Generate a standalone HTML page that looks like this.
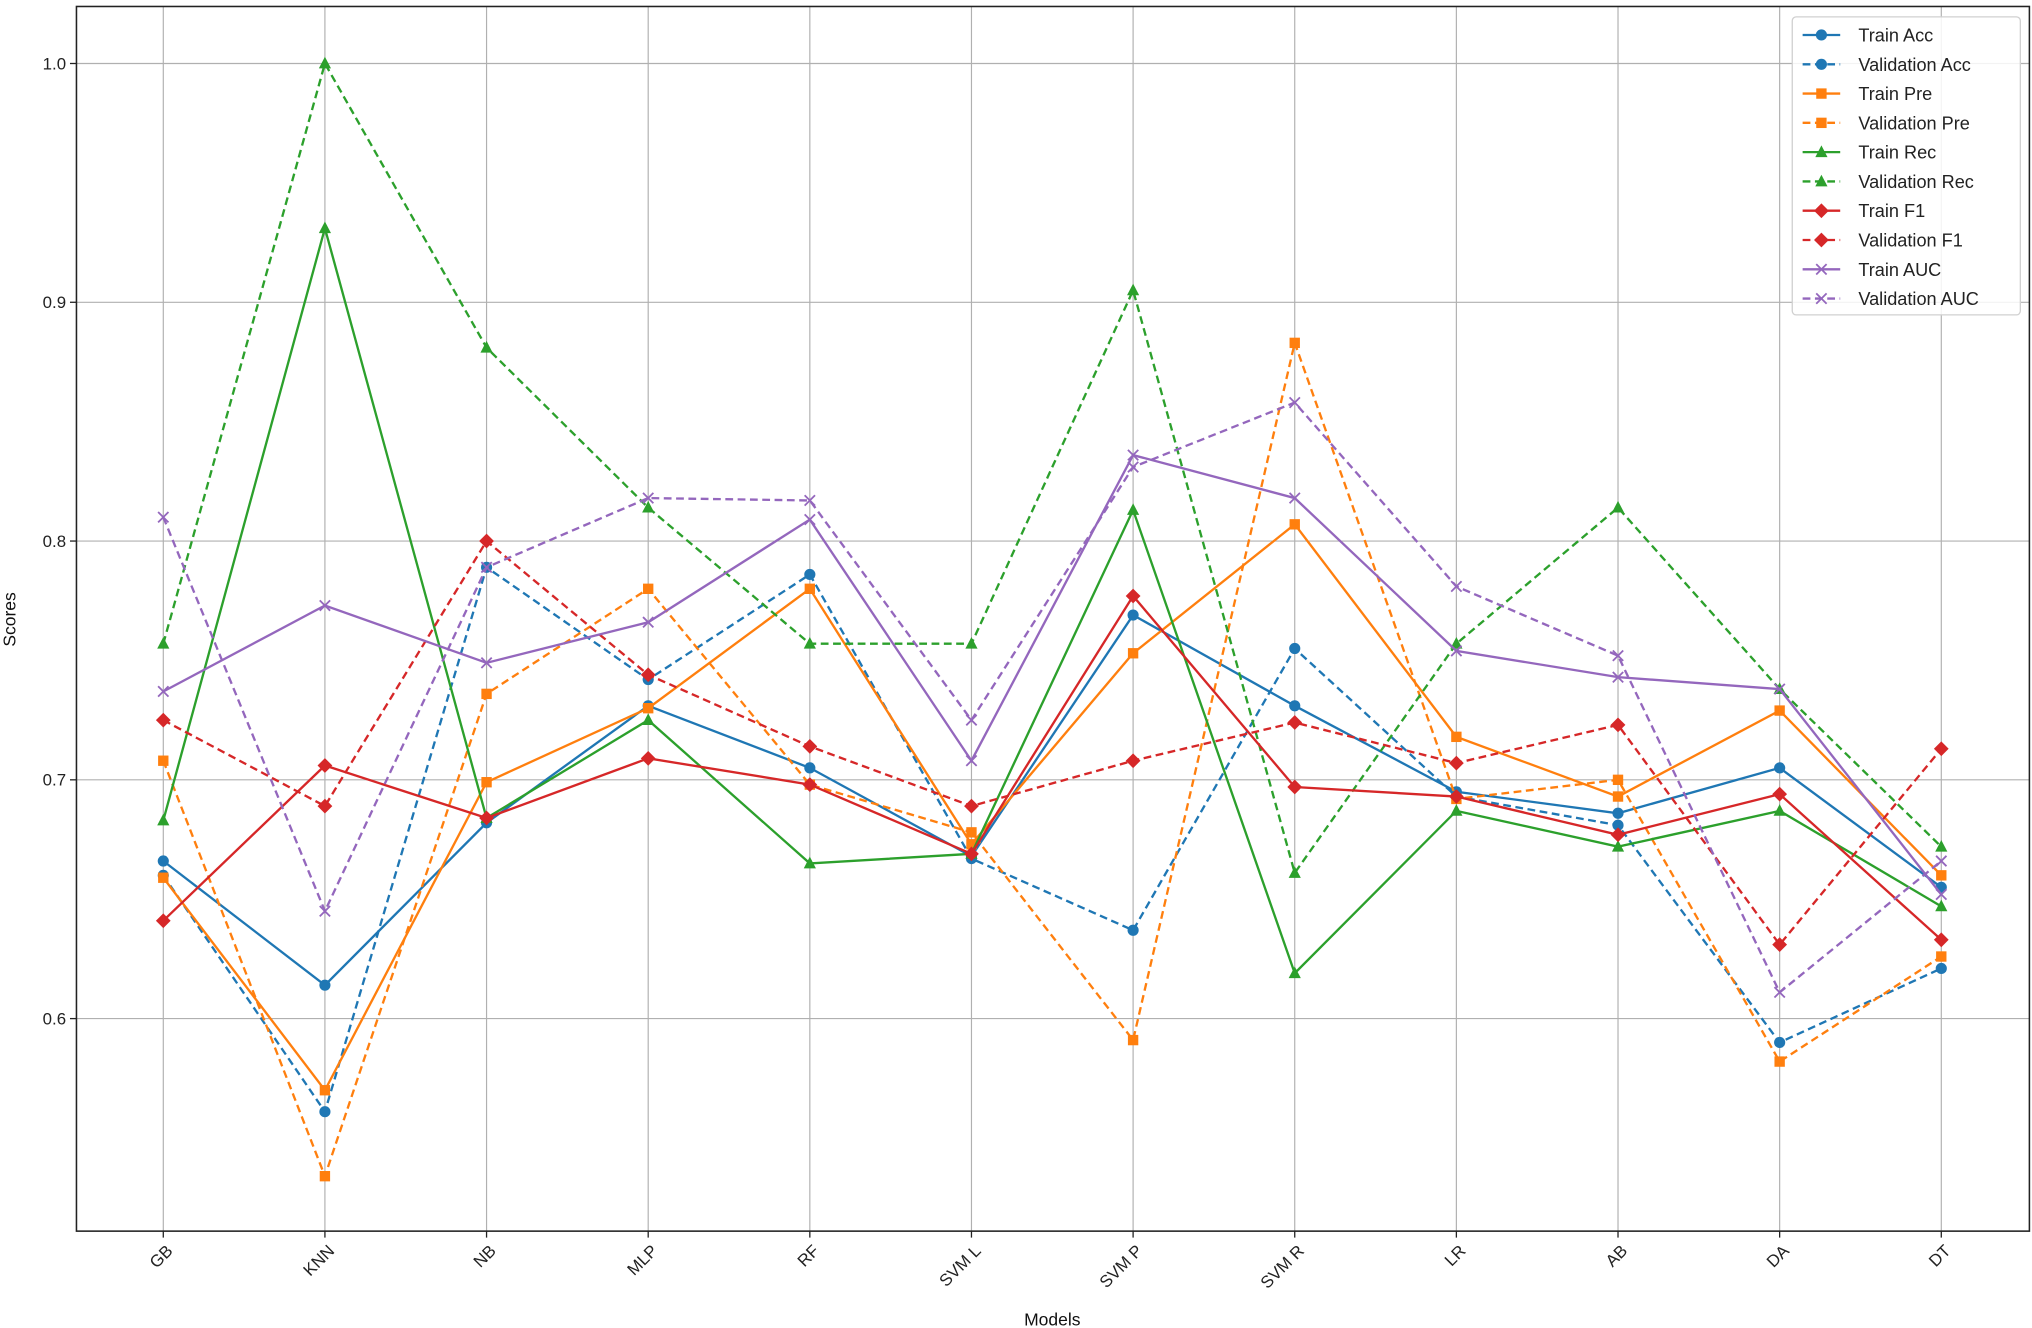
<!DOCTYPE html>
<html><head><meta charset="utf-8">
<style>
html,body{margin:0;padding:0;background:#fff;}
svg{display:block;font-family:"Liberation Sans","DejaVu Sans",sans-serif;}
</style></head>
<body>
<svg id="chart" width="2032" height="1328" viewBox="0 0 1568 1024.75" preserveAspectRatio="none" xmlns="http://www.w3.org/2000/svg">
<rect width="1568" height="1024.75" fill="#fff"/>
<g id="grid"></g>
<g id="series"></g>
<rect x="59" y="5" width="1507" height="945" fill="none" stroke="#222" stroke-width="1.2"/>
<g id="axes"></g>
<text x="812" y="1023" font-size="13.5" text-anchor="middle" fill="#111">Models</text>
<text x="0" y="0" font-size="13.5" text-anchor="middle" fill="#111" transform="translate(12,478) rotate(-90)">Scores</text>
<g id="legend"></g>
</svg>
<script>
const categories = ["GB","KNN","NB","MLP","RF","SVM L","SVM P","SVM R","LR","AB","DA","DT"];
const yTicks = [0.6,0.7,0.8,0.9,1.0];
const yTickLabels = ["0.6","0.7","0.8","0.9","1.0"];
const seriesNames = ["Train Acc","Validation Acc","Train Pre","Validation Pre","Train Rec","Validation Rec","Train F1","Validation F1","Train AUC","Validation AUC"];
const trainAcc = [0.666,0.614,0.682,0.731,0.705,0.668,0.769,0.731,0.695,0.686,0.705,0.655];
const valAcc   = [0.660,0.561,0.789,0.742,0.786,0.667,0.637,0.755,0.693,0.681,0.590,0.621];
const trainPre = [0.659,0.570,0.699,0.730,0.780,0.673,0.753,0.807,0.718,0.693,0.729,0.660];
const valPre   = [0.708,0.534,0.736,0.780,0.698,0.678,0.591,0.883,0.692,0.700,0.582,0.626];
const trainRec = [0.683,0.931,0.684,0.725,0.665,0.669,0.813,0.619,0.687,0.672,0.687,0.647];
const valRec   = [0.757,1.000,0.881,0.814,0.757,0.757,0.905,0.661,0.757,0.814,0.738,0.672];
const trainF1  = [0.641,0.706,0.684,0.709,0.698,0.669,0.777,0.697,0.693,0.677,0.694,0.633];
const valF1    = [0.725,0.689,0.800,0.744,0.714,0.689,0.708,0.724,0.707,0.723,0.631,0.713];
const trainAUC = [0.737,0.773,0.749,0.766,0.809,0.708,0.836,0.818,0.754,0.743,0.738,0.652];
const valAUC   = [0.810,0.645,0.789,0.818,0.817,0.725,0.831,0.858,0.781,0.752,0.611,0.666];

const NS="http://www.w3.org/2000/svg";
function mk(tag, attrs, parent){const e=document.createElementNS(NS,tag);for(const k in attrs)e.setAttribute(k,attrs[k]);parent.appendChild(e);return e;}
const X0=126, XSTEP=(1498-126)/11;
function xScale(i){return X0+i*XSTEP;}
function yScale(v){return 49+(1.0-v)*1842.5;}

const grid=document.getElementById('grid'), axes=document.getElementById('axes');
categories.forEach((c,i)=>{
  const x=xScale(i);
  const gl=mk('line',{x1:x,x2:x,y1:5,y2:950,stroke:'#b0b0b0','stroke-width':0.9},grid);
  
  
  const tk=mk('line',{x1:x,x2:x,y1:950,y2:955,stroke:'#222','stroke-width':1},axes);
  
  
  const t=mk('text',{x:x+8,y:966,'font-size':13,'text-anchor':'end',fill:'#222',transform:`rotate(-45 ${x+8} 966)`},axes);
  t.textContent=c;
  
  
});
yTicks.forEach((v,i)=>{
  const y=yScale(v);
  const gl=mk('line',{x1:59,x2:1566,y1:y,y2:y,stroke:'#b0b0b0','stroke-width':0.9},grid);
  
  
  const tk=mk('line',{x1:54,x2:59,y1:y,y2:y,stroke:'#222','stroke-width':1},axes);
  
  
  const t=mk('text',{x:51,y:y+4.5,'font-size':13,'text-anchor':'end',fill:'#222'},axes);
  t.textContent=yTickLabels[i];
  
  
});

const colors={acc:'#1f77b4',pre:'#ff7f0e',rec:'#2ca02c',f1:'#d62728',auc:'#9467bd'};
const defs=[
 [trainAcc,colors.acc,false,'o'],[valAcc,colors.acc,true,'o'],
 [trainPre,colors.pre,false,'s'],[valPre,colors.pre,true,'s'],
 [trainRec,colors.rec,false,'^'],[valRec,colors.rec,true,'^'],
 [trainF1,colors.f1,false,'D'],[valF1,colors.f1,true,'D'],
 [trainAUC,colors.auc,false,'x'],[valAUC,colors.auc,true,'x']];

function marker(g,type,x,y,col){
  let e;
  if(type==='o') e=mk('circle',{cx:x,cy:y,r:4.3,fill:col},g);
  else if(type==='s') e=mk('rect',{x:x-4,y:y-4,width:8,height:8,fill:col},g);
  else if(type==='^') e=mk('polygon',{points:`${x},${y-5.2} ${x-4.7},${y+3.8} ${x+4.7},${y+3.8}`,fill:col},g);
  else if(type==='D') e=mk('polygon',{points:`${x},${y-5.7} ${x+5.7},${y} ${x},${y+5.7} ${x-5.7},${y}`,fill:col},g);
  else e=mk('path',{d:`M${x-4},${y-4}L${x+4},${y+4}M${x-4},${y+4}L${x+4},${y-4}`,stroke:col,'stroke-width':1.4,fill:'none'},g);
  return e;
}

const sg=document.getElementById('series');
defs.forEach((d,si)=>{
  const [vals,col,dash,mt]=d;
  const g=mk('g',{},sg);
  
  
  const pts=vals.map((v,i)=>`${xScale(i)},${yScale(v)}`).join(' ');
  const pl=mk('polyline',{points:pts,fill:'none',stroke:col,'stroke-width':1.8},g);
  if(dash) pl.setAttribute('stroke-dasharray','6,3.5');
  
  
  vals.forEach((v,i)=>{
    const m=marker(g,mt,xScale(i),yScale(v),col);
    
    
  });
});

const lg=document.getElementById('legend');


mk('rect',{x:1383,y:13,width:176,height:230,rx:3,fill:'#fff','fill-opacity':0.85,stroke:'#d0d0d0','stroke-width':1},lg);
defs.forEach((d,si)=>{
  const [vals,col,dash,mt]=d;
  const y=27+si*22.6;
  const g=mk('g',{},lg);
  
  
  const l=mk('line',{x1:1391,x2:1420,y1:y,y2:y,stroke:col,'stroke-width':1.8},g);
  if(dash) l.setAttribute('stroke-dasharray','6,3.5');
  marker(g,mt,1405.5,y,col);
  const t=mk('text',{x:1434,y:y+5,'font-size':14,fill:'#222'},g);
  t.textContent=seriesNames[si];
});
</script>
</body></html>
